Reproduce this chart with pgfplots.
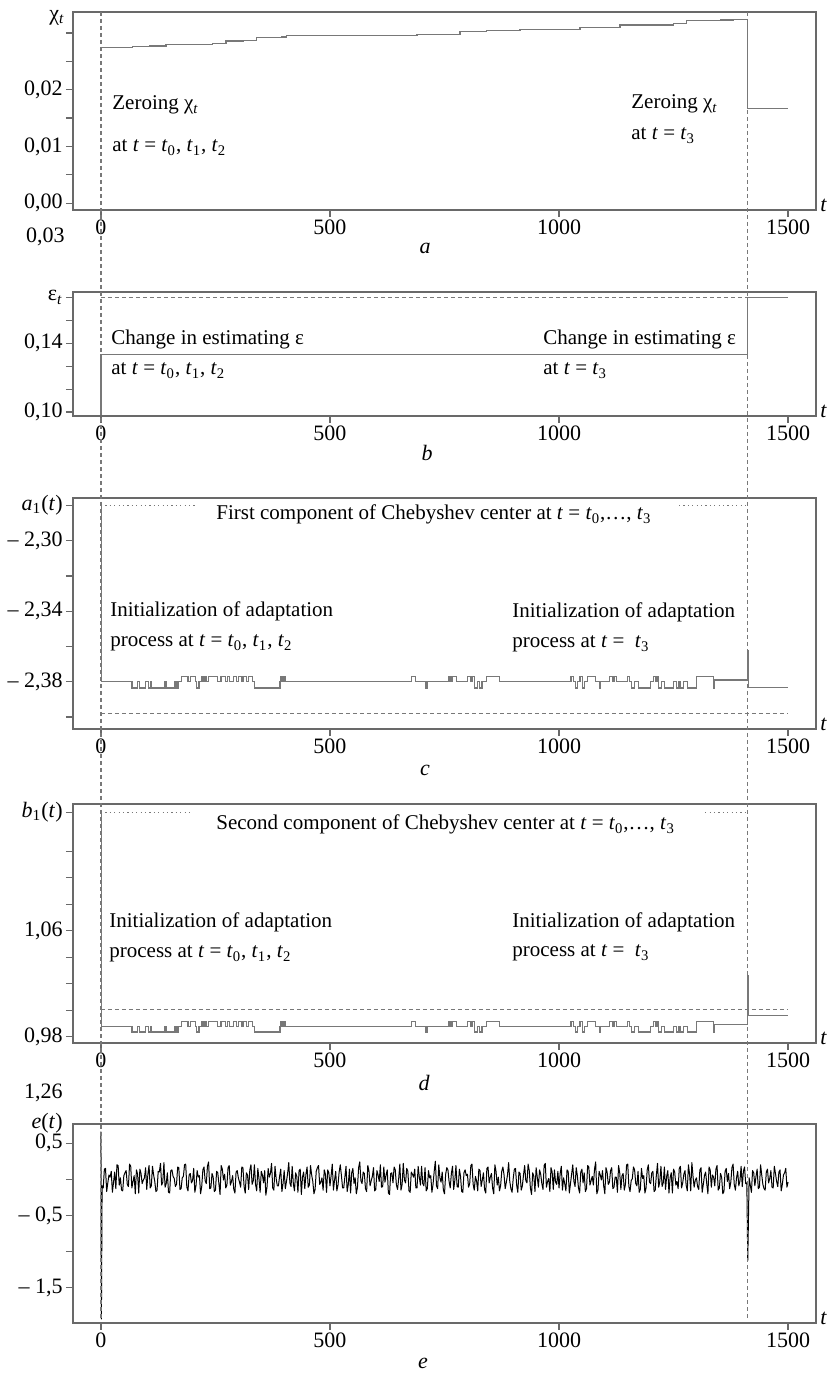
\documentclass[border=0pt]{standalone}
\usepackage{fontspec}
\setmainfont{Liberation Serif}
\usepackage{pgfplots}
\pgfplotsset{compat=1.18}

\definecolor{axgray}{RGB}{105,105,105}
\definecolor{lngray}{RGB}{120,120,120}
\newcommand{\ti}{\textit{t}}
\newcommand{\tsub}[1]{\textit{t}\textsubscript{#1}}
\newcommand{\ann}{\fontsize{10.5}{12.5}\selectfont}

\pgfplotsset{panel/.style={
  scale only axis, width=371.5pt, anchor=south west,
  xmin=-61, xmax=1561, clip=false,
  scaled ticks=false,
  axis line style={axgray, line width=0.6pt},
  tick style={axgray, line width=0.6pt},
  major tick length=3.5pt, tick align=outside,
  xtick pos=bottom, ytick pos=left,
  xtick={0,500,1000,1500}, xticklabels={0,500,1000,1500},
  ticklabel style={font=\fontsize{11}{13}\selectfont},
  xticklabel style={inner sep=1pt},
  yticklabel style={inner sep=1.5pt},
}}

\begin{document}
\begin{tikzpicture}
\useasboundingbox (0,0) rectangle (414.5pt,687pt);

% ---- a: chi_t
\begin{axis}[panel, at={(36.5pt,582pt)}, height=99pt,
  ymin=-0.0012, ymax=0.0337,
  ytick={0,0.005,0.01,0.015,0.02,0.025,0.03},
  yticklabels={{0,00},{},{0,01},{},{0,02},{},{}}]
\addplot[const plot, lngray, line width=0.6pt] coordinates {
(0,0.0275)(69,0.0276)(106,0.0277)(142,0.0279)(244,0.0282)(273,0.0286)
(310,0.0287)(339,0.0292)(394,0.0293)(405,0.0296)(690,0.0297)(784,0.0302)
(842,0.0304)(915,0.0306)(1046,0.0310)(1133,0.0314)(1250,0.0317)(1279,0.0322)
(1352,0.0323)(1380,0.0324)(1412,0.01665)(1500,0.01665)};
\coordinate (g0top) at (axis cs:0,0.0337);
\coordinate (g3top) at (axis cs:1412,0.0337);
\node[anchor=south west, inner sep=0pt, font=\fontsize{11}{13}\selectfont\itshape]
  at (rel axis cs:1,0) [xshift=2pt,yshift=-1pt] {t};
\end{axis}

% ---- b: epsilon_t
\begin{axis}[panel, at={(36.5pt,479pt)}, height=62pt,
  ymin=0.0977, ymax=0.1699,
  ytick={0.10,0.11333,0.12667,0.14,0.15333,0.16667},
  yticklabels={{0,10},{},{},{0,14},{},{ε\textsubscript{\textit{t}}}}]
\addplot[lngray, line width=0.6pt, dash pattern=on 2pt off 1.5pt] coordinates {
(0,0.16667)(1500,0.16667)};
\addplot[lngray, line width=0.6pt] coordinates {
(0,0.10)(0,0.1336)(1412,0.1336)(1412,0.16667)(1500,0.16667)};
\node[anchor=south west, inner sep=0pt, font=\fontsize{11}{13}\selectfont\itshape]
  at (rel axis cs:1,0) [xshift=2pt,yshift=-1pt] {t};
\end{axis}

% ---- c: a_1(t)
\begin{axis}[panel, at={(36.5pt,322.5pt)}, height=115.5pt,
  ymin=-2.4068, ymax=-2.2758,
  ytick={-2.40,-2.38,-2.36,-2.34,-2.32,-2.30,-2.28},
  yticklabels={{},{– 2,38},{},{– 2,34},{},{– 2,30},{\textit{a}\textsubscript{1}(\textit{t})}}]
\addplot[lngray, line width=0.6pt, dash pattern=on 2pt off 1.5pt] coordinates {
(0,-2.398)(1500,-2.398)};
\addplot[lngray, line width=0.6pt, dash pattern=on 0.6pt off 1.6pt] coordinates {
(0,-2.28)(210,-2.28)};
\addplot[lngray, line width=0.6pt, dash pattern=on 0.6pt off 1.6pt] coordinates {
(1262,-2.28)(1412,-2.28)};
\addplot[const plot, lngray, line width=0.6pt] coordinates {
(0,-2.28)(1,-2.380)(68,-2.3835)(80,-2.380)(85,-2.3835)(98,-2.380)(103,-2.3835)
(108,-2.380)(111,-2.3835)(140,-2.380)(143,-2.3835)(160,-2.380)(164,-2.3835)
(168,-2.380)(176,-2.377)(190,-2.380)(196,-2.377)(206,-2.380)(209,-2.3835)
(214,-2.380)(219,-2.377)(223,-2.380)(227,-2.377)(231,-2.380)(234,-2.377)
(255,-2.380)(262,-2.377)(272,-2.380)(276,-2.377)(280,-2.380)(290,-2.377)
(296,-2.380)(300,-2.377)(306,-2.380)(310,-2.377)(318,-2.380)(322,-2.377)
(330,-2.380)(336,-2.3835)(391,-2.380)(393,-2.377)(396,-2.380)(398,-2.377)
(402,-2.380)(678,-2.377)(686,-2.380)(709,-2.3835)(712,-2.380)(760,-2.377)
(764,-2.380)(768,-2.377)(776,-2.380)(800,-2.377)(806,-2.380)(810,-2.377)
(816,-2.3835)(822,-2.380)(826,-2.3835)(832,-2.380)(842,-2.377)(870,-2.380)
(1026,-2.377)(1032,-2.380)(1036,-2.3835)(1040,-2.380)(1046,-2.377)(1052,-2.3835)
(1056,-2.380)(1062,-2.377)(1080,-2.380)(1088,-2.3835)(1091,-2.380)(1110,-2.377)
(1116,-2.380)(1120,-2.377)(1126,-2.380)(1150,-2.377)(1154,-2.380)(1158,-2.3835)
(1164,-2.380)(1174,-2.3835)(1200,-2.380)(1206,-2.377)(1210,-2.380)(1214,-2.377)
(1218,-2.3835)(1224,-2.380)(1230,-2.3835)(1250,-2.380)(1256,-2.3835)(1262,-2.380)
(1266,-2.3835)(1272,-2.380)(1280,-2.3835)(1300,-2.377)(1338,-2.3835)(1340,-2.379)
(1412,-2.3625)(1414,-2.3832)(1500,-2.3832)};
\node[anchor=south west, inner sep=0pt, font=\fontsize{11}{13}\selectfont\itshape]
  at (rel axis cs:1,0) [xshift=2pt,yshift=-1pt] {t};
\end{axis}

% ---- d: b_1(t)
\begin{axis}[panel, at={(36.5pt,165.5pt)}, height=119.5pt,
  ymin=0.9752, ymax=1.1558,
  ytick={0.98,1.00,1.02,1.04,1.06,1.08,1.10,1.12,1.1495},
  yticklabels={{0,98},{},{},{},{1,06},{},{},{},{\textit{b}\textsubscript{1}(\textit{t})}}]
\addplot[lngray, line width=0.6pt, dash pattern=on 2pt off 1.5pt] coordinates {
(0,1.0003)(1500,1.0003)};
\addplot[lngray, line width=0.6pt, dash pattern=on 0.6pt off 1.6pt] coordinates {
(0,1.1495)(198,1.1495)};
\addplot[lngray, line width=0.6pt, dash pattern=on 0.6pt off 1.6pt] coordinates {
(1319,1.1495)(1412,1.1495)};
\addplot[const plot, lngray, line width=0.6pt] coordinates {
(0,1.1495)(1,0.9878)(68,0.9835)(80,0.9878)(85,0.9835)(98,0.9878)(103,0.9835)
(108,0.9878)(111,0.9835)(140,0.9878)(143,0.9835)(160,0.9878)(164,0.9835)
(168,0.9878)(176,0.9915)(190,0.9878)(196,0.9915)(206,0.9878)(209,0.9835)
(214,0.9878)(219,0.9915)(223,0.9878)(227,0.9915)(231,0.9878)(234,0.9915)
(255,0.9878)(262,0.9915)(272,0.9878)(276,0.9915)(280,0.9878)(290,0.9915)
(296,0.9878)(300,0.9915)(306,0.9878)(310,0.9915)(318,0.9878)(322,0.9915)
(330,0.9878)(336,0.9835)(391,0.9878)(393,0.9915)(396,0.9878)(398,0.9915)
(402,0.9878)(678,0.9915)(686,0.9878)(709,0.9835)(712,0.9878)(760,0.9915)
(764,0.9878)(768,0.9915)(776,0.9878)(800,0.9915)(806,0.9878)(810,0.9915)
(816,0.9835)(822,0.9878)(826,0.9835)(832,0.9878)(842,0.9915)(870,0.9878)
(1026,0.9915)(1032,0.9878)(1036,0.9835)(1040,0.9878)(1046,0.9915)(1052,0.9835)
(1056,0.9878)(1062,0.9915)(1080,0.9878)(1088,0.9835)(1091,0.9878)(1110,0.9915)
(1116,0.9878)(1120,0.9915)(1126,0.9878)(1150,0.9915)(1154,0.9878)(1158,0.9835)
(1164,0.9878)(1174,0.9835)(1200,0.9878)(1206,0.9915)(1210,0.9878)(1214,0.9915)
(1218,0.9835)(1224,0.9878)(1230,0.9835)(1250,0.9878)(1256,0.9835)(1262,0.9878)
(1266,0.9835)(1272,0.9878)(1280,0.9835)(1300,0.9915)(1338,0.9835)(1340,0.9890)
(1412,1.0259)(1414,0.9960)(1500,0.9960)};
\node[anchor=south west, inner sep=0pt, font=\fontsize{11}{13}\selectfont\itshape]
  at (rel axis cs:1,0) [xshift=2pt,yshift=-1pt] {t};
\end{axis}

% ---- e: e(t)
\begin{axis}[panel, at={(36.5pt,25.5pt)}, height=99.5pt,
  ymin=-1.986, ymax=0.764,
  ytick={-1.5,-1,-0.5,0,0.5},
  yticklabels={{– 1,5},{},{– 0,5},{},{0,5}}]
\addplot[black, line width=0.5pt, line join=round] coordinates {
(0,0.66)(1,-1.93)(2.5,-0.09)(5,-0.12)(7.5,0.14)(10,0.15)(12.5,-0.17)(15,-0.05)(17.5,0.06)(20,0.03)(22.5,0.11)(25,-0.18)(27.5,-0.04)(30,0.10)(32.5,-0.13)(35,0.20)(37.5,0.19)(40,-0.08)(42.5,0.02)(45,-0.15)(47.5,-0.16)(50,0.05)(52.5,0.09)(55,0.12)(57.5,-0.07)(60,-0.10)(62.5,0.21)(65,0.18)(67.5,-0.12)(70,-0.03)(72.5,0.05)(75,-0.20)(77.5,0.13)(80,0.07)(82.5,-0.19)(85,0.14)(87.5,0.08)(90,-0.06)(92.5,-0.01)(95,0.02)(97.5,0.16)
(100,-0.14)(102.5,0.07)(105,0.19)(107.5,-0.12)(110,-0.09)(112.5,0.18)(115,0.06)(117.5,-0.03)(120,-0.17)(122.5,-0.15)(125,0.11)(127.5,0.10)(130,0.22)(132.5,-0.08)(135,-0.04)(137.5,0.23)(140,-0.11)(142.5,-0.06)(145,0.09)(147.5,-0.18)(150,-0.19)(152.5,0.12)(155,0.13)(157.5,0.04)(160,0.01)(162.5,-0.10)(165,-0.07)(167.5,0.17)(170,0.16)(172.5,-0.14)(175,-0.13)(177.5,0.02)(180,0.04)(182.5,0.20)(185,0.21)(187.5,-0.11)(190,-0.16)(192.5,0.06)(195,0.08)(197.5,-0.05)
(200,-0.02)(202.5,0.15)(205,-0.18)(207.5,-0.09)(210,0.12)(212.5,0.03)(215,0.05)(217.5,-0.20)(220,-0.10)(222.5,0.13)(225,0.17)(227.5,-0.02)(230,-0.06)(232.5,0.18)(235,0.24)(237.5,-0.13)(240,-0.12)(242.5,0.08)(245,0.03)(247.5,-0.17)(250,-0.15)(252.5,0.11)(255,0.09)(257.5,-0.06)(260,-0.21)(262.5,0.19)(265,0.14)(267.5,-0.01)(270,0.07)(272.5,-0.12)(275,-0.08)(277.5,0.16)(280,0.19)(282.5,-0.08)(285,-0.03)(287.5,0.05)(290,-0.14)(292.5,-0.19)(295,0.10)(297.5,0.12)
(300,0.02)(302.5,-0.04)(305,-0.11)(307.5,0.17)(310,0.16)(312.5,-0.10)(315,-0.19)(317.5,0.09)(320,0.06)(322.5,-0.14)(325,0.13)(327.5,0.20)(330,-0.07)(332.5,-0.02)(335,0.20)(337.5,-0.07)(340,-0.16)(342.5,0.15)(345,0.01)(347.5,-0.18)(350,0.11)(352.5,0.06)(355,-0.05)(357.5,0.12)(360,-0.22)(362.5,-0.11)(365,0.15)(367.5,0.03)(370,0.08)(372.5,0.22)(375,-0.12)(377.5,-0.15)(380,0.18)(382.5,0.01)(385,-0.09)(387.5,-0.09)(390,0.04)(392.5,0.14)(395,-0.17)(397.5,-0.06)
(400,0.12)(402.5,-0.13)(405,-0.03)(407.5,0.08)(410,0.23)(412.5,-0.05)(415,-0.10)(417.5,0.18)(420,-0.06)(422.5,-0.16)(425,0.09)(427.5,0.04)(430,-0.18)(432.5,0.12)(435,0.14)(437.5,-0.21)(440,0.03)(442.5,0.10)(445,-0.13)(447.5,0.07)(450,0.17)(452.5,-0.11)(455,-0.08)(457.5,0.19)(460,0.06)(462.5,-0.03)(465,-0.20)(467.5,-0.14)(470,0.11)(472.5,0.16)(475,0.19)(477.5,-0.07)(480,-0.04)(482.5,0.02)(485,-0.15)(487.5,0.13)(490,0.07)(492.5,-0.18)(495,0.13)(497.5,0.09)
(500,-0.09)(502.5,0.05)(505,0.21)(507.5,-0.15)(510,-0.01)(512.5,0.11)(515,-0.16)(517.5,-0.08)(520,0.10)(522.5,0.20)(525,0.05)(527.5,-0.12)(530,-0.12)(532.5,0.03)(535,0.18)(537.5,-0.17)(540,-0.07)(542.5,0.14)(545,-0.19)(547.5,0.09)(550,0.15)(552.5,-0.06)(555,0.02)(557.5,-0.20)(560,-0.11)(562.5,0.16)(565,0.24)(567.5,-0.02)(570,-0.06)(572.5,0.10)(575,0.08)(577.5,-0.13)(580,-0.17)(582.5,0.19)(585,0.12)(587.5,-0.09)(590,-0.02)(592.5,0.04)(595,0.16)(597.5,-0.16)
(600,-0.14)(602.5,0.12)(605,0.06)(607.5,-0.03)(610,0.20)(612.5,-0.11)(615,-0.10)(617.5,0.17)(620,-0.04)(622.5,0.06)(625,0.13)(627.5,-0.19)(630,-0.21)(632.5,0.08)(635,0.09)(637.5,-0.05)(640,0.17)(642.5,0.13)(645,-0.08)(647.5,-0.14)(650,0.01)(652.5,0.21)(655,-0.15)(657.5,-0.07)(660,0.22)(662.5,-0.01)(665,-0.05)(667.5,0.15)(670,0.11)(672.5,-0.16)(675,-0.18)(677.5,0.10)(680,0.07)(682.5,0.03)(685,0.14)(687.5,-0.12)(690,-0.12)(692.5,0.18)(695,0.03)(697.5,-0.08)
(700,0.18)(702.5,-0.06)(705,-0.09)(707.5,0.16)(710,-0.16)(712.5,-0.13)(715,0.12)(717.5,0.02)(720,0.05)(722.5,-0.18)(725,-0.07)(727.5,0.11)(730,0.25)(732.5,-0.09)(735,-0.13)(737.5,0.20)(740,0.02)(742.5,-0.04)(745,0.10)(747.5,-0.15)(750,-0.20)(752.5,0.07)(755,0.16)(757.5,0.13)(760,-0.03)(762.5,-0.12)(765,0.08)(767.5,0.18)(770,-0.14)(772.5,-0.02)(775,0.19)(777.5,-0.10)(780,-0.11)(782.5,0.14)(785,0.04)(787.5,-0.17)(790,-0.18)(792.5,0.09)(795,0.13)(797.5,0.05)
(800,0.07)(802.5,-0.11)(805,-0.06)(807.5,0.19)(810,0.21)(812.5,-0.07)(815,-0.15)(817.5,0.04)(820,-0.02)(822.5,-0.16)(825,0.14)(827.5,0.12)(830,-0.10)(832.5,-0.01)(835,0.09)(837.5,-0.14)(840,-0.19)(842.5,0.15)(845,0.17)(847.5,-0.05)(850,0.03)(852.5,0.08)(855,-0.12)(857.5,-0.20)(860,0.20)(862.5,0.11)(865,-0.08)(867.5,0.03)(870,-0.16)(872.5,-0.09)(875,0.11)(877.5,0.17)(880,0.06)(882.5,-0.13)(885,-0.04)(887.5,0.06)(890,0.23)(892.5,-0.03)(895,-0.13)(897.5,-0.18)
(900,0.01)(902.5,0.14)(905,0.15)(907.5,-0.08)(910,-0.18)(912.5,0.10)(915,0.08)(917.5,-0.15)(920,-0.09)(922.5,0.06)(925,0.19)(927.5,-0.02)(930,-0.05)(932.5,0.21)(935,0.12)(937.5,-0.12)(940,-0.21)(942.5,0.09)(945,0.04)(947.5,-0.17)(950,0.16)(952.5,0.03)(955,-0.11)(957.5,0.13)(960,0.07)(962.5,-0.06)(965,-0.14)(967.5,0.19)(970,0.22)(972.5,-0.11)(975,-0.03)(977.5,0.01)(980,-0.17)(982.5,0.16)(985,0.10)(987.5,-0.14)(990,0.13)(992.5,-0.04)(995,-0.07)(997.5,0.11)
(1000,-0.12)(1002.5,0.08)(1005,0.18)(1007.5,-0.15)(1010,0.02)(1012.5,-0.06)(1015,-0.16)(1017.5,0.13)(1020,0.11)(1022.5,-0.19)(1025,-0.06)(1027.5,0.07)(1030,0.20)(1032.5,-0.03)(1035,-0.10)(1037.5,0.16)(1040,0.05)(1042.5,-0.12)(1045,-0.19)(1047.5,0.10)(1050,0.14)(1052.5,-0.05)(1055,0.09)(1057.5,-0.17)(1060,-0.13)(1062.5,0.19)(1065,0.17)(1067.5,-0.08)(1070,-0.02)(1072.5,0.04)(1075,-0.08)(1077.5,0.14)(1080,0.24)(1082.5,-0.20)(1085,-0.15)(1087.5,0.11)(1090,0.06)(1092.5,-0.01)(1095,0.12)(1097.5,-0.09)
(1100,-0.20)(1102.5,0.16)(1105,0.10)(1107.5,-0.07)(1110,-0.04)(1112.5,0.12)(1115,0.16)(1117.5,-0.13)(1120,-0.11)(1122.5,0.03)(1125,0.03)(1127.5,-0.18)(1130,0.19)(1132.5,0.09)(1135,-0.14)(1137.5,0.05)(1140,0.08)(1142.5,-0.15)(1145,-0.07)(1147.5,0.20)(1150,0.21)(1152.5,-0.10)(1155,-0.17)(1157.5,-0.02)(1160,0.01)(1162.5,0.17)(1165,0.13)(1167.5,-0.06)(1170,-0.09)(1172.5,0.11)(1175,-0.18)(1177.5,-0.14)(1180,0.15)(1182.5,0.01)(1185,0.05)(1187.5,-0.19)(1190,-0.12)(1192.5,0.13)(1195,0.20)(1197.5,-0.04)
(1200,-0.06)(1202.5,0.09)(1205,0.11)(1207.5,-0.17)(1210,-0.15)(1212.5,0.06)(1215,0.22)(1217.5,-0.11)(1220,-0.03)(1222.5,0.18)(1225,-0.10)(1227.5,-0.05)(1230,0.17)(1232.5,-0.14)(1235,0.04)(1237.5,0.12)(1240,-0.19)(1242.5,0.02)(1245,0.09)(1247.5,-0.19)(1250,0.14)(1252.5,0.10)(1255,-0.08)(1257.5,-0.03)(1260,-0.13)(1262.5,0.15)(1265,0.18)(1267.5,-0.12)(1270,-0.05)(1272.5,0.07)(1275,0.12)(1277.5,-0.08)(1280,-0.16)(1282.5,0.20)(1285,0.07)(1287.5,-0.16)(1290,0.23)(1292.5,0.04)(1295,-0.11)(1297.5,-0.01)
(1300,0.02)(1302.5,-0.10)(1305,-0.14)(1307.5,0.13)(1310,0.16)(1312.5,-0.18)(1315,-0.07)(1317.5,0.05)(1320,0.10)(1322.5,-0.06)(1325,-0.20)(1327.5,0.17)(1330,0.13)(1332.5,-0.11)(1335,0.06)(1337.5,0.03)(1340,-0.09)(1342.5,0.14)(1345,0.19)(1347.5,-0.15)(1350,-0.12)(1352.5,0.08)(1355,0.03)(1357.5,-0.20)(1360,-0.17)(1362.5,0.11)(1365,0.15)(1367.5,-0.03)(1370,0.08)(1372.5,-0.13)(1375,-0.04)(1377.5,0.16)(1380,0.21)(1382.5,-0.07)(1385,-0.15)(1387.5,0.02)(1390,0.11)(1392.5,-0.09)(1395,-0.02)(1397.5,0.18)
(1400,-0.10)(1402.5,0.11)(1405,0.17)(1407.5,-0.06)(1410,-0.05)(1412,-1.12)(1415,0.02)(1417.5,-0.08)(1420,-0.18)(1422.5,0.12)(1425,0.09)(1427.5,-0.09)(1430,0.04)(1432.5,0.14)(1435,-0.13)(1437.5,-0.11)(1440,0.20)(1442.5,0.06)(1445,-0.07)(1447.5,-0.13)(1450,-0.15)(1452.5,0.10)(1455,0.14)(1457.5,-0.05)(1460,0.01)(1462.5,0.12)(1465,-0.11)(1467.5,-0.12)(1470,0.18)(1472.5,0.08)(1475,-0.03)(1477.5,-0.10)(1480,0.10)(1482.5,0.13)(1485,-0.16)(1487.5,-0.07)(1490,0.06)(1492.5,0.09)(1495,0.15)(1497.5,-0.11)(1500,-0.04)};
\coordinate (g0bot) at (axis cs:0,-1.93);
\coordinate (g3bot) at (axis cs:1412,-1.93);
\node[anchor=south west, inner sep=0pt, font=\fontsize{11}{13}\selectfont\itshape]
  at (rel axis cs:1,0) [xshift=2pt,yshift=-1pt] {t};
\end{axis}

% guide lines at t = t0 and t = t3
\draw[lngray, line width=0.6pt, dash pattern=on 2pt off 1.5pt] (g0top) -- (g0bot);
\draw[lngray, line width=0.6pt, dash pattern=on 2pt off 1.5pt] (g3top) -- (g3bot);

% axis names and stray labels
\begin{scope}[every node/.style={inner sep=0pt, font=\fontsize{11}{13}\selectfont}]
\node[anchor=east] at (32.5pt,678pt) {χ\textsubscript{\textit{t}}};
\node[anchor=east] at (32.5pt,568.5pt) {0,03};
\node[anchor=east] at (31.5pt,140.5pt) {1,26};
\node[anchor=east] at (31.5pt,125.5pt) {\textit{e}(\textit{t})};
\node[font=\fontsize{11}{13}\selectfont\itshape] at (212.5pt,563pt) {a};
\node[font=\fontsize{11}{13}\selectfont\itshape] at (213.5pt,460.5pt) {b};
\node[font=\fontsize{11}{13}\selectfont\itshape] at (212.5pt,302pt) {c};
\node[font=\fontsize{11}{13}\selectfont\itshape] at (212pt,145.5pt) {d};
\node[font=\fontsize{11}{13}\selectfont\itshape] at (211.5pt,5.5pt) {e};
\end{scope}

% annotations
\begin{scope}[every node/.style={inner sep=0pt, anchor=base west, font=\ann}]
\node at (56pt,632pt) {Zeroing χ\textsubscript{\textit{t}}};
\node at (56pt,611pt) {at \ti{} = \tsub{0}, \tsub{1}, \tsub{2}};
\node at (315.5pt,632.5pt) {Zeroing χ\textsubscript{\textit{t}}};
\node at (315.5pt,617pt) {at \ti{} = \tsub{3}};
\node at (55.5pt,514.5pt) {Change in estimating ε};
\node at (55.5pt,499.5pt) {at \ti{} = \tsub{0}, \tsub{1}, \tsub{2}};
\node at (271.5pt,514.5pt) {Change in estimating ε};
\node at (271.5pt,499.5pt) {at \ti{} = \tsub{3}};
\node at (108pt,427pt) {First component of Chebyshev center at \ti{} = \tsub{0},…, \tsub{3}};
\node at (55pt,378.5pt) {Initialization of adaptation};
\node at (55pt,363.5pt) {process at \ti{} = \tsub{0}, \tsub{1}, \tsub{2}};
\node at (256pt,378pt) {Initialization of adaptation};
\node at (256pt,363pt) {process at \ti{} =\ \ \tsub{3}};
\node at (108pt,272pt) {Second component of Chebyshev center at \ti{} = \tsub{0},…, \tsub{3}};
\node at (54.5pt,223pt) {Initialization of adaptation};
\node at (54.5pt,208pt) {process at \ti{} = \tsub{0}, \tsub{1}, \tsub{2}};
\node at (256pt,223pt) {Initialization of adaptation};
\node at (256pt,208.5pt) {process at \ti{} =\ \ \tsub{3}};
\end{scope}
\end{tikzpicture}
\end{document}
